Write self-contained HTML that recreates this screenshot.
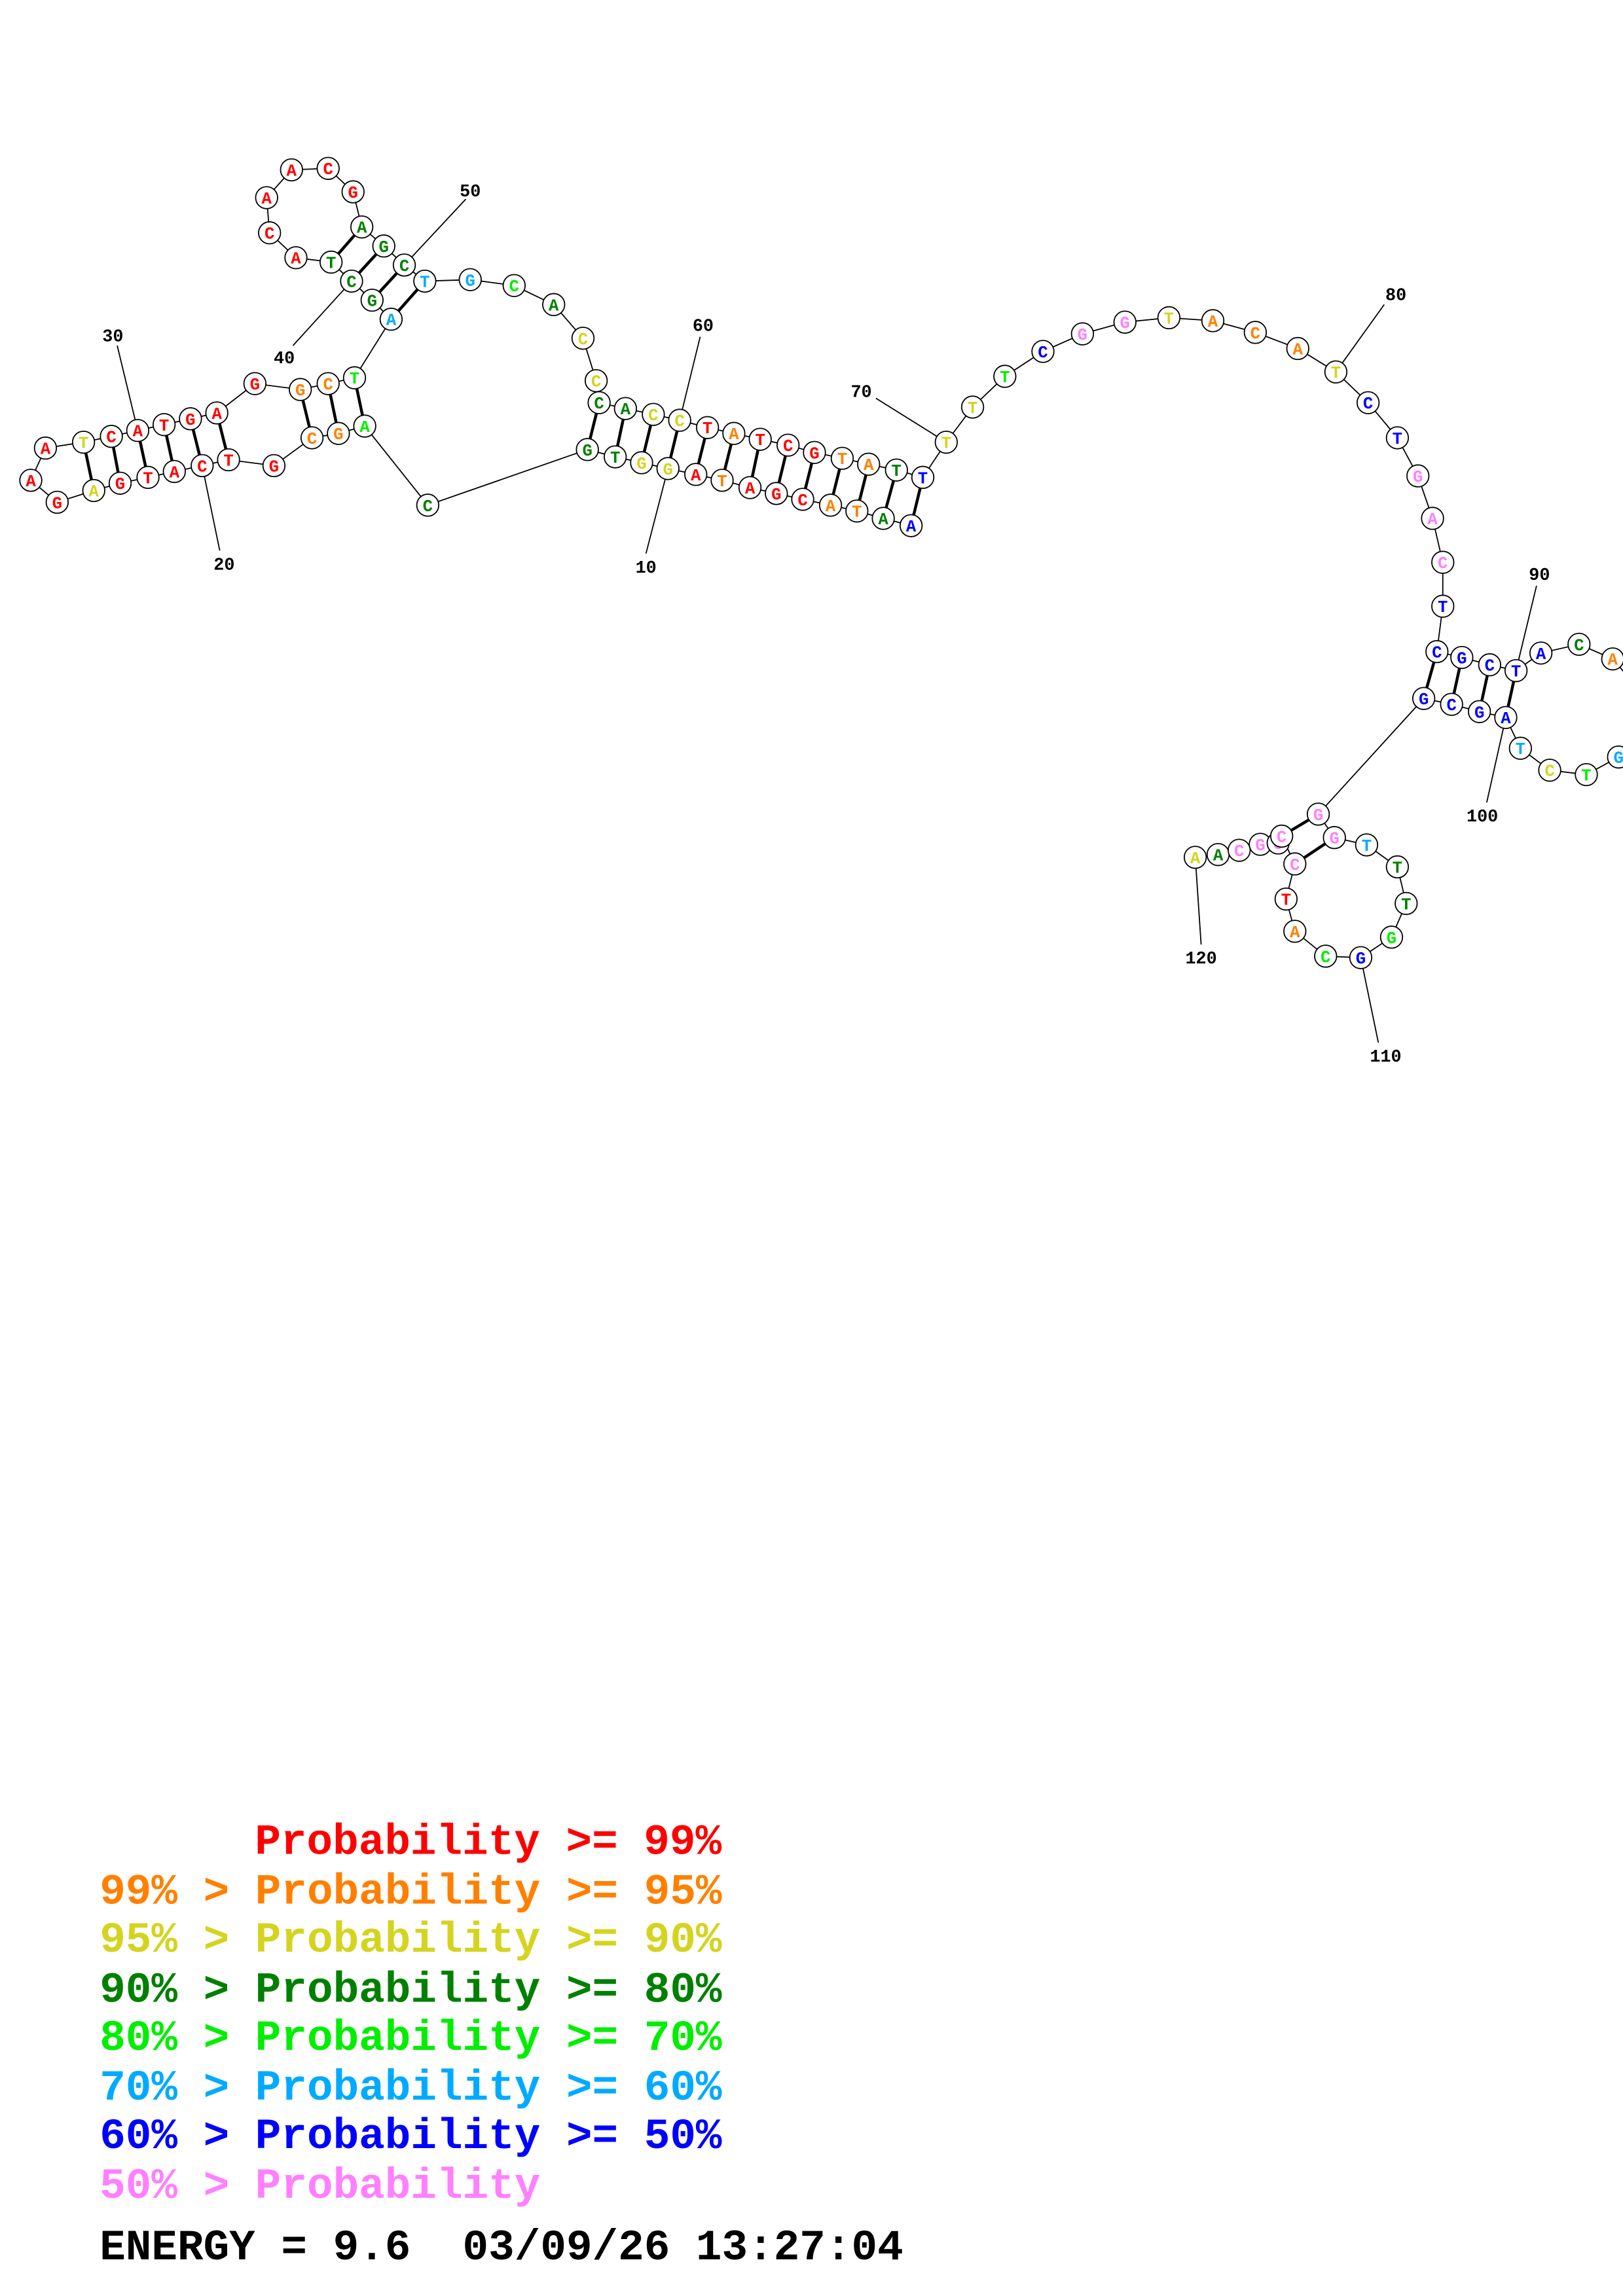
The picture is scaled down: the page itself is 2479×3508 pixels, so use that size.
<!DOCTYPE html>
<html><head><meta charset="utf-8"><style>
html,body{margin:0;padding:0;background:#fff;}
svg{display:block;}
.n circle{fill:#fff;stroke:#000;stroke-width:0.8;}
.n text{font-family:"Liberation Mono",monospace;font-weight:bold;font-size:11.5px;text-anchor:middle;}
.lab{font-family:"Liberation Mono",monospace;font-weight:bold;font-size:12px;text-anchor:middle;fill:#000;}
.leg{font-family:"Liberation Mono",monospace;font-weight:bold;font-size:29.5px;}
</style></head><body>
<svg width="2479" height="3508" viewBox="0 0 1108 1568" xmlns="http://www.w3.org/2000/svg">
<rect width="1108" height="1568" fill="#fff"/>
<polyline fill="none" stroke="#000" stroke-width="0.8" points="622,359 603,354 585,349 567,345 548,341 530,337 512,333 493,328 475,324 456,320 438,316 420,312 401,307 292,345 249,291 231,296 213,299 187,318 156,314 138,318 119,322 101,326 82,330 64,335 39,343 21,328 31,306 57,302 76,298 94,294 112,290 130,286 148,282 174,262 205,266 224,262 242,258 267,218 254,205 240,192 226,179 202,176 184,159 182,135 199,116 224,115 241,131 247,155 262,168 276,181 290,192 321,191 351,195 378,208 398,231 407,260 409,275 427,279 446,283 464,287 483,292 501,296 519,300 538,304 556,309 575,313 593,317 612,321 630,326 646,302 664,278 686,257 712,240 739,228 768,220 798,217 828,219 857,227 886,238 912,254 934,275 954,299 968,325 978,354 985,384 985,414 981,445 998,449 1017,454 1035,458 1052,446 1078,440 1101,450 1120,472 1124,496 1105,517 1083,529 1058,526 1038,511 1028,490 1010,486 991,481 972,477 900,556 911,572 933,577 954,592 960,617 950,640 929,654 905,653 884,636 878,614 884,590 875,571 872.6,575.7 860.4,576.6 846,580.7 831.6,583.6 816,585.5"/>
<g stroke="#000" stroke-width="2">
<line x1="622" y1="359" x2="630" y2="326"/><line x1="603" y1="354" x2="612" y2="321"/><line x1="585" y1="349" x2="593" y2="317"/><line x1="567" y1="345" x2="575" y2="313"/><line x1="548" y1="341" x2="556" y2="309"/><line x1="530" y1="337" x2="538" y2="304"/><line x1="512" y1="333" x2="519" y2="300"/><line x1="493" y1="328" x2="501" y2="296"/><line x1="475" y1="324" x2="483" y2="292"/><line x1="456" y1="320" x2="464" y2="287"/><line x1="438" y1="316" x2="446" y2="283"/><line x1="420" y1="312" x2="427" y2="279"/><line x1="401" y1="307" x2="409" y2="275"/>
<line x1="249" y1="291" x2="242" y2="258"/><line x1="231" y1="296" x2="224" y2="262"/><line x1="213" y1="299" x2="205" y2="266"/>
<line x1="156" y1="314" x2="148" y2="282"/><line x1="138" y1="318" x2="130" y2="286"/><line x1="119" y1="322" x2="112" y2="290"/><line x1="101" y1="326" x2="94" y2="294"/><line x1="82" y1="330" x2="76" y2="298"/><line x1="64" y1="335" x2="57" y2="302"/>
<line x1="267" y1="218" x2="290" y2="192"/><line x1="254" y1="205" x2="276" y2="181"/><line x1="240" y1="192" x2="262" y2="168"/><line x1="226" y1="179" x2="247" y2="155"/>
<line x1="981" y1="445" x2="972" y2="477"/><line x1="998" y1="449" x2="991" y2="481"/><line x1="1017" y1="454" x2="1010" y2="486"/><line x1="1035" y1="458" x2="1028" y2="490"/>
<line x1="900" y1="556" x2="875" y2="571"/><line x1="911" y1="572" x2="884" y2="590"/>
</g>
<g stroke="#000" stroke-width="0.8">
<line x1="456" y1="320" x2="441" y2="378"/><line x1="138" y1="318" x2="150" y2="376"/><line x1="94" y1="294" x2="80" y2="236"/><line x1="240" y1="192" x2="200" y2="236"/><line x1="276" y1="181" x2="318" y2="136"/><line x1="464" y1="287" x2="478" y2="230"/><line x1="646" y1="302" x2="598" y2="272"/><line x1="912" y1="254" x2="945" y2="208"/><line x1="1035" y1="458" x2="1049" y2="400"/><line x1="1028" y1="490" x2="1015" y2="548"/><line x1="929" y1="654" x2="941" y2="712"/><line x1="816" y1="585" x2="820" y2="645"/>
</g>
<g class="lab">
<text x="441" y="391">10</text><text x="153" y="389">20</text><text x="77" y="233">30</text><text x="194" y="248">40</text><text x="321" y="134">50</text><text x="480" y="226">60</text><text x="588" y="271">70</text><text x="953" y="205">80</text><text x="1051" y="396">90</text><text x="1012" y="561">100</text><text x="946" y="725">110</text><text x="820" y="658">120</text>
</g>
<g class="n">
<circle cx="622" cy="359" r="7.5"/><text x="622" y="363" fill="#0000ff">A</text>
<circle cx="603" cy="354" r="7.5"/><text x="603" y="358" fill="#008000">A</text>
<circle cx="585" cy="349" r="7.5"/><text x="585" y="353" fill="#ff8000">T</text>
<circle cx="567" cy="345" r="7.5"/><text x="567" y="349" fill="#ff8000">A</text>
<circle cx="548" cy="341" r="7.5"/><text x="548" y="345" fill="#ff0000">C</text>
<circle cx="530" cy="337" r="7.5"/><text x="530" y="341" fill="#ff0000">G</text>
<circle cx="512" cy="333" r="7.5"/><text x="512" y="337" fill="#ff0000">A</text>
<circle cx="493" cy="328" r="7.5"/><text x="493" y="332" fill="#ff8000">T</text>
<circle cx="475" cy="324" r="7.5"/><text x="475" y="328" fill="#ff0000">A</text>
<circle cx="456" cy="320" r="7.5"/><text x="456" y="324" fill="#d4d420">G</text>
<circle cx="438" cy="316" r="7.5"/><text x="438" y="320" fill="#d4d420">G</text>
<circle cx="420" cy="312" r="7.5"/><text x="420" y="316" fill="#008000">T</text>
<circle cx="401" cy="307" r="7.5"/><text x="401" y="311" fill="#008000">G</text>
<circle cx="292" cy="345" r="7.5"/><text x="292" y="349" fill="#008000">C</text>
<circle cx="249" cy="291" r="7.5"/><text x="249" y="295" fill="#00ee00">A</text>
<circle cx="231" cy="296" r="7.5"/><text x="231" y="300" fill="#ff8000">G</text>
<circle cx="213" cy="299" r="7.5"/><text x="213" y="303" fill="#ff8000">C</text>
<circle cx="187" cy="318" r="7.5"/><text x="187" y="322" fill="#ff0000">G</text>
<circle cx="156" cy="314" r="7.5"/><text x="156" y="318" fill="#ff0000">T</text>
<circle cx="138" cy="318" r="7.5"/><text x="138" y="322" fill="#ff0000">C</text>
<circle cx="119" cy="322" r="7.5"/><text x="119" y="326" fill="#ff0000">A</text>
<circle cx="101" cy="326" r="7.5"/><text x="101" y="330" fill="#ff0000">T</text>
<circle cx="82" cy="330" r="7.5"/><text x="82" y="334" fill="#ff0000">G</text>
<circle cx="64" cy="335" r="7.5"/><text x="64" y="339" fill="#d4d420">A</text>
<circle cx="39" cy="343" r="7.5"/><text x="39" y="347" fill="#ff0000">G</text>
<circle cx="21" cy="328" r="7.5"/><text x="21" y="332" fill="#ff0000">A</text>
<circle cx="31" cy="306" r="7.5"/><text x="31" y="310" fill="#ff0000">A</text>
<circle cx="57" cy="302" r="7.5"/><text x="57" y="306" fill="#d4d420">T</text>
<circle cx="76" cy="298" r="7.5"/><text x="76" y="302" fill="#ff0000">C</text>
<circle cx="94" cy="294" r="7.5"/><text x="94" y="298" fill="#ff0000">A</text>
<circle cx="112" cy="290" r="7.5"/><text x="112" y="294" fill="#ff0000">T</text>
<circle cx="130" cy="286" r="7.5"/><text x="130" y="290" fill="#ff0000">G</text>
<circle cx="148" cy="282" r="7.5"/><text x="148" y="286" fill="#ff0000">A</text>
<circle cx="174" cy="262" r="7.5"/><text x="174" y="266" fill="#ff0000">G</text>
<circle cx="205" cy="266" r="7.5"/><text x="205" y="270" fill="#ff8000">G</text>
<circle cx="224" cy="262" r="7.5"/><text x="224" y="266" fill="#ff8000">C</text>
<circle cx="242" cy="258" r="7.5"/><text x="242" y="262" fill="#00ee00">T</text>
<circle cx="267" cy="218" r="7.5"/><text x="267" y="222" fill="#00aaff">A</text>
<circle cx="254" cy="205" r="7.5"/><text x="254" y="209" fill="#008000">G</text>
<circle cx="240" cy="192" r="7.5"/><text x="240" y="196" fill="#008000">C</text>
<circle cx="226" cy="179" r="7.5"/><text x="226" y="183" fill="#008000">T</text>
<circle cx="202" cy="176" r="7.5"/><text x="202" y="180" fill="#ff0000">A</text>
<circle cx="184" cy="159" r="7.5"/><text x="184" y="163" fill="#ff0000">C</text>
<circle cx="182" cy="135" r="7.5"/><text x="182" y="139" fill="#ff0000">A</text>
<circle cx="199" cy="116" r="7.5"/><text x="199" y="120" fill="#ff0000">A</text>
<circle cx="224" cy="115" r="7.5"/><text x="224" y="119" fill="#ff0000">C</text>
<circle cx="241" cy="131" r="7.5"/><text x="241" y="135" fill="#ff0000">G</text>
<circle cx="247" cy="155" r="7.5"/><text x="247" y="159" fill="#008000">A</text>
<circle cx="262" cy="168" r="7.5"/><text x="262" y="172" fill="#008000">G</text>
<circle cx="276" cy="181" r="7.5"/><text x="276" y="185" fill="#008000">C</text>
<circle cx="290" cy="192" r="7.5"/><text x="290" y="196" fill="#00aaff">T</text>
<circle cx="321" cy="191" r="7.5"/><text x="321" y="195" fill="#00aaff">G</text>
<circle cx="351" cy="195" r="7.5"/><text x="351" y="199" fill="#00ee00">C</text>
<circle cx="378" cy="208" r="7.5"/><text x="378" y="212" fill="#008000">A</text>
<circle cx="398" cy="231" r="7.5"/><text x="398" y="235" fill="#d4d420">C</text>
<circle cx="407" cy="260" r="7.5"/><text x="407" y="264" fill="#d4d420">C</text>
<circle cx="409" cy="275" r="7.5"/><text x="409" y="279" fill="#008000">C</text>
<circle cx="427" cy="279" r="7.5"/><text x="427" y="283" fill="#008000">A</text>
<circle cx="446" cy="283" r="7.5"/><text x="446" y="287" fill="#d4d420">C</text>
<circle cx="464" cy="287" r="7.5"/><text x="464" y="291" fill="#d4d420">C</text>
<circle cx="483" cy="292" r="7.5"/><text x="483" y="296" fill="#ff0000">T</text>
<circle cx="501" cy="296" r="7.5"/><text x="501" y="300" fill="#ff8000">A</text>
<circle cx="519" cy="300" r="7.5"/><text x="519" y="304" fill="#ff0000">T</text>
<circle cx="538" cy="304" r="7.5"/><text x="538" y="308" fill="#ff0000">C</text>
<circle cx="556" cy="309" r="7.5"/><text x="556" y="313" fill="#ff0000">G</text>
<circle cx="575" cy="313" r="7.5"/><text x="575" y="317" fill="#ff8000">T</text>
<circle cx="593" cy="317" r="7.5"/><text x="593" y="321" fill="#ff8000">A</text>
<circle cx="612" cy="321" r="7.5"/><text x="612" y="325" fill="#008000">T</text>
<circle cx="630" cy="326" r="7.5"/><text x="630" y="330" fill="#0000ff">T</text>
<circle cx="646" cy="302" r="7.5"/><text x="646" y="306" fill="#d4d420">T</text>
<circle cx="664" cy="278" r="7.5"/><text x="664" y="282" fill="#d4d420">T</text>
<circle cx="686" cy="257" r="7.5"/><text x="686" y="261" fill="#00ee00">T</text>
<circle cx="712" cy="240" r="7.5"/><text x="712" y="244" fill="#0000ff">C</text>
<circle cx="739" cy="228" r="7.5"/><text x="739" y="232" fill="#ff80ff">G</text>
<circle cx="768" cy="220" r="7.5"/><text x="768" y="224" fill="#ff80ff">G</text>
<circle cx="798" cy="217" r="7.5"/><text x="798" y="221" fill="#d4d420">T</text>
<circle cx="828" cy="219" r="7.5"/><text x="828" y="223" fill="#ff8000">A</text>
<circle cx="857" cy="227" r="7.5"/><text x="857" y="231" fill="#ff8000">C</text>
<circle cx="886" cy="238" r="7.5"/><text x="886" y="242" fill="#ff8000">A</text>
<circle cx="912" cy="254" r="7.5"/><text x="912" y="258" fill="#d4d420">T</text>
<circle cx="934" cy="275" r="7.5"/><text x="934" y="279" fill="#0000ff">C</text>
<circle cx="954" cy="299" r="7.5"/><text x="954" y="303" fill="#0000ff">T</text>
<circle cx="968" cy="325" r="7.5"/><text x="968" y="329" fill="#ff80ff">G</text>
<circle cx="978" cy="354" r="7.5"/><text x="978" y="358" fill="#ff80ff">A</text>
<circle cx="985" cy="384" r="7.5"/><text x="985" y="388" fill="#ff80ff">C</text>
<circle cx="985" cy="414" r="7.5"/><text x="985" y="418" fill="#0000ff">T</text>
<circle cx="981" cy="445" r="7.5"/><text x="981" y="449" fill="#0000ff">C</text>
<circle cx="998" cy="449" r="7.5"/><text x="998" y="453" fill="#0000ff">G</text>
<circle cx="1017" cy="454" r="7.5"/><text x="1017" y="458" fill="#0000ff">C</text>
<circle cx="1035" cy="458" r="7.5"/><text x="1035" y="462" fill="#0000ff">T</text>
<circle cx="1052" cy="446" r="7.5"/><text x="1052" y="450" fill="#0000ff">A</text>
<circle cx="1078" cy="440" r="7.5"/><text x="1078" y="444" fill="#008000">C</text>
<circle cx="1101" cy="450" r="7.5"/><text x="1101" y="454" fill="#ff8000">A</text>
<circle cx="1120" cy="472" r="7.5"/><text x="1120" y="476" fill="#ff8000">A</text>
<circle cx="1124" cy="496" r="7.5"/><text x="1124" y="500" fill="#00aaff">G</text>
<circle cx="1105" cy="517" r="7.5"/><text x="1105" y="521" fill="#00aaff">G</text>
<circle cx="1083" cy="529" r="7.5"/><text x="1083" y="533" fill="#00ee00">T</text>
<circle cx="1058" cy="526" r="7.5"/><text x="1058" y="530" fill="#d4d420">C</text>
<circle cx="1038" cy="511" r="7.5"/><text x="1038" y="515" fill="#00aaff">T</text>
<circle cx="1028" cy="490" r="7.5"/><text x="1028" y="494" fill="#0000ff">A</text>
<circle cx="1010" cy="486" r="7.5"/><text x="1010" y="490" fill="#0000ff">G</text>
<circle cx="991" cy="481" r="7.5"/><text x="991" y="485" fill="#0000ff">C</text>
<circle cx="972" cy="477" r="7.5"/><text x="972" y="481" fill="#0000ff">G</text>
<circle cx="900" cy="556" r="7.5"/><text x="900" y="560" fill="#ff80ff">G</text>
<circle cx="911" cy="572" r="7.5"/><text x="911" y="576" fill="#ff80ff">G</text>
<circle cx="933" cy="577" r="7.5"/><text x="933" y="581" fill="#00aaff">T</text>
<circle cx="954" cy="592" r="7.5"/><text x="954" y="596" fill="#008000">T</text>
<circle cx="960" cy="617" r="7.5"/><text x="960" y="621" fill="#008000">T</text>
<circle cx="950" cy="640" r="7.5"/><text x="950" y="644" fill="#00ee00">G</text>
<circle cx="929" cy="654" r="7.5"/><text x="929" y="658" fill="#0000ff">G</text>
<circle cx="905" cy="653" r="7.5"/><text x="905" y="657" fill="#00ee00">C</text>
<circle cx="884" cy="636" r="7.5"/><text x="884" y="640" fill="#ff8000">A</text>
<circle cx="878" cy="614" r="7.5"/><text x="878" y="618" fill="#ff0000">T</text>
<circle cx="884" cy="590" r="7.5"/><text x="884" y="594" fill="#ff80ff">C</text>
<circle cx="816" cy="585.5" r="7.5"/><text x="816" y="589.5" fill="#d4d420">A</text>
<circle cx="831.6" cy="583.6" r="7.5"/><text x="831.6" y="587.6" fill="#008000">A</text>
<circle cx="846" cy="580.7" r="7.5"/><text x="846" y="584.7" fill="#ff80ff">C</text>
<circle cx="860.4" cy="576.6" r="7.5"/><text x="860.4" y="580.6" fill="#ff80ff">G</text>
<circle cx="872.6" cy="575.7" r="7.5"/><text x="872.6" y="579.7" fill="#ff80ff">C</text>
<circle cx="875" cy="571" r="7.5"/><text x="875" y="575" fill="#ff80ff">C</text>
</g>
<g class="leg">
<text x="174" y="1266" fill="#ff0000">Probability &gt;= 99%</text>
<text x="68" y="1300" fill="#ff8000">99% &gt; Probability &gt;= 95%</text>
<text x="68" y="1333" fill="#d4d420">95% &gt; Probability &gt;= 90%</text>
<text x="68" y="1367" fill="#008000">90% &gt; Probability &gt;= 80%</text>
<text x="68" y="1400" fill="#00ee00">80% &gt; Probability &gt;= 70%</text>
<text x="68" y="1434" fill="#00aaff">70% &gt; Probability &gt;= 60%</text>
<text x="68" y="1467" fill="#0000ff">60% &gt; Probability &gt;= 50%</text>
<text x="68" y="1501" fill="#ff80ff">50% &gt; Probability</text>
<text x="68" y="1543" fill="#000">ENERGY = 9.6 &#160;03/09/26 13:27:04</text>
</g>
</svg>
</body></html>
